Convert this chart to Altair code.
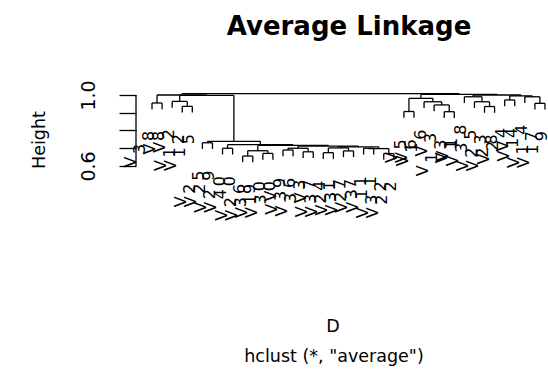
import altair as alt
import pandas as pd

# Leaf labels in the left-to-right order of the dendrogram
leaf_labels = [
    "V38", "V8", "V2", "V12", "V15",
    "V25", "V29", "V20", "V40", "V26", "V39", "V10", "V30", "V9", "V36",
    "V33", "V7", "V34", "V21", "V37", "V27", "V31", "V11", "V32", "V22",
    "V5", "V6", "V16", "V3", "V13", "V1", "V18", "V35", "V23", "V28",
    "V24", "V4", "V14", "V17", "V19",
]

# hclust-style merge table: negative = leaf position, positive = earlier merge row
merge_left = [-1, -4, -3, -6, -8, -10, -12, 6, -14, -16, 9, -18, -20, 12, -22, -24,
              15, 14, 11, 8, 5, 4, -26, -30, -29, -28, 23, -34, -33, -32, -36, -39,
              -38, 31, 30, 27, 3, 1, 38]
merge_right = [-2, -5, 2, -7, -9, -11, -13, 7, -15, -17, 10, -19, -21, 13, -23, -25,
               16, 17, 18, 19, 20, 21, -27, -31, 24, 25, 26, -35, 28, 29, -37, -40,
               32, 33, 34, 35, 22, 37, 36]
merge_height = [0.955, 0.936, 0.964, 0.731, 0.700, 0.656, 0.671, 0.686, 0.690, 0.680,
                0.700, 0.675, 0.685, 0.702, 0.700, 0.670, 0.698, 0.708, 0.712, 0.716,
                0.720, 0.739, 0.907, 0.906, 0.944, 0.962, 0.981, 0.935, 0.962, 0.990,
                0.972, 0.953, 0.990, 0.995, 1.000, 1.003, 0.998, 1.000, 1.008]

y_ticks = [0.6, 0.7, 0.8, 0.9, 1.0]
hang = 0.1

n = len(leaf_labels)
hang_amt = hang * (max(merge_height) - min(merge_height))
node_x = {}
leaf_h = [0.0] * n
segments = []


def child_pos(c, parent_h):
    if c < 0:
        leaf_h[-c - 1] = parent_h - hang_amt
        return float(-c), parent_h - hang_amt
    return node_x[c], merge_height[c - 1]


for row, (a, b, h) in enumerate(zip(merge_left, merge_right, merge_height), start=1):
    xa, ya = child_pos(a, h)
    xb, yb = child_pos(b, h)
    segments.append({"x": xa, "x2": xa, "y": ya, "y2": h})
    segments.append({"x": xa, "x2": xb, "y": h, "y2": h})
    segments.append({"x": xb, "x2": xb, "y": yb, "y2": h})
    node_x[row] = (xa + xb) / 2

seg_df = pd.DataFrame(segments)

# Leaf labels: each glyph turned on its side, stepping down-left away from the leaf
chars = []
for i, lab in enumerate(leaf_labels):
    L = len(lab)
    for j, ch in enumerate(lab):
        k = L - 1 - j
        chars.append({
            "ch": ch,
            "x": (i + 1) - 0.3 - 0.9 * k,
            "y": leaf_h[i] - 0.15 - 0.074 * k,
        })
char_df = pd.DataFrame(chars)

xscale = alt.Scale(domain=[-0.588, 40.30], nice=False, zero=False)
yscale = alt.Scale(domain=[-0.5944, 1.03944], nice=False, zero=False)
FONT = "DejaVu Sans"

height_axis = alt.Axis(
    values=y_ticks, format=".1f",
    labelExpr="abs(datum.value - 1) < 0.001 || abs(datum.value - 0.6) < 0.001 ? datum.label : ''",
    domain=False, grid=False, ticks=True, tickSize=17, tickColor="black",
    tickWidth=1.3, labelAngle=270, labelAlign="center",
    labelBaseline="alphabetic", labelPadding=25, labelOverlap=False,
    labelFont=FONT, labelFontSize=19, labelColor="black",
)

tree = alt.Chart(seg_df).mark_rule(color="black", strokeWidth=1.3).encode(
    x=alt.X("x:Q", scale=xscale, axis=None),
    x2="x2",
    y=alt.Y("y:Q", scale=yscale, title=None, axis=height_axis),
    y2="y2",
)

axis_line = alt.Chart(pd.DataFrame({"lo": [min(y_ticks)], "hi": [max(y_ticks)]})).mark_rule(
    color="black", strokeWidth=1.3
).encode(
    x=alt.value(0),
    y=alt.Y("lo:Q", scale=yscale, title=None, axis=height_axis),
    y2="hi",
)

labels = alt.Chart(char_df).mark_text(
    angle=270, align="center", baseline="middle", font=FONT, fontSize=16, color="black"
).encode(
    x=alt.X("x:Q", scale=xscale, axis=None),
    y=alt.Y("y:Q", scale=yscale, title=None, axis=height_axis),
    text="ch:N",
)


def note(txt, px, py, size=17.5, weight="normal", angle=0):
    return alt.Chart(alt.Data(values=[{"t": txt}])).mark_text(
        font=FONT, fontSize=size, fontWeight=weight, angle=angle,
        align="center", baseline="middle", color="black"
    ).encode(x=alt.value(px), y=alt.value(py), text="t:N")


title = note("Average Linkage", 213, -61, size=26, weight="bold")
ylab = note("Height", -96, 52, angle=270)
xlab = note("D", 197, 239)
sub = note('hclust (*, "average")', 198, 269)

chart = alt.layer(tree, axis_line, labels, title, ylab, xlab, sub).properties(
    width=412,
    height=290,
    padding={"left": 136, "top": 88, "right": 0, "bottom": 9},
    autosize=alt.AutoSizeParams(type="none"),
    background="white",
).configure_view(stroke=None)

chart.save("out.html", embed_options={"renderer": "svg", "actions": False})
